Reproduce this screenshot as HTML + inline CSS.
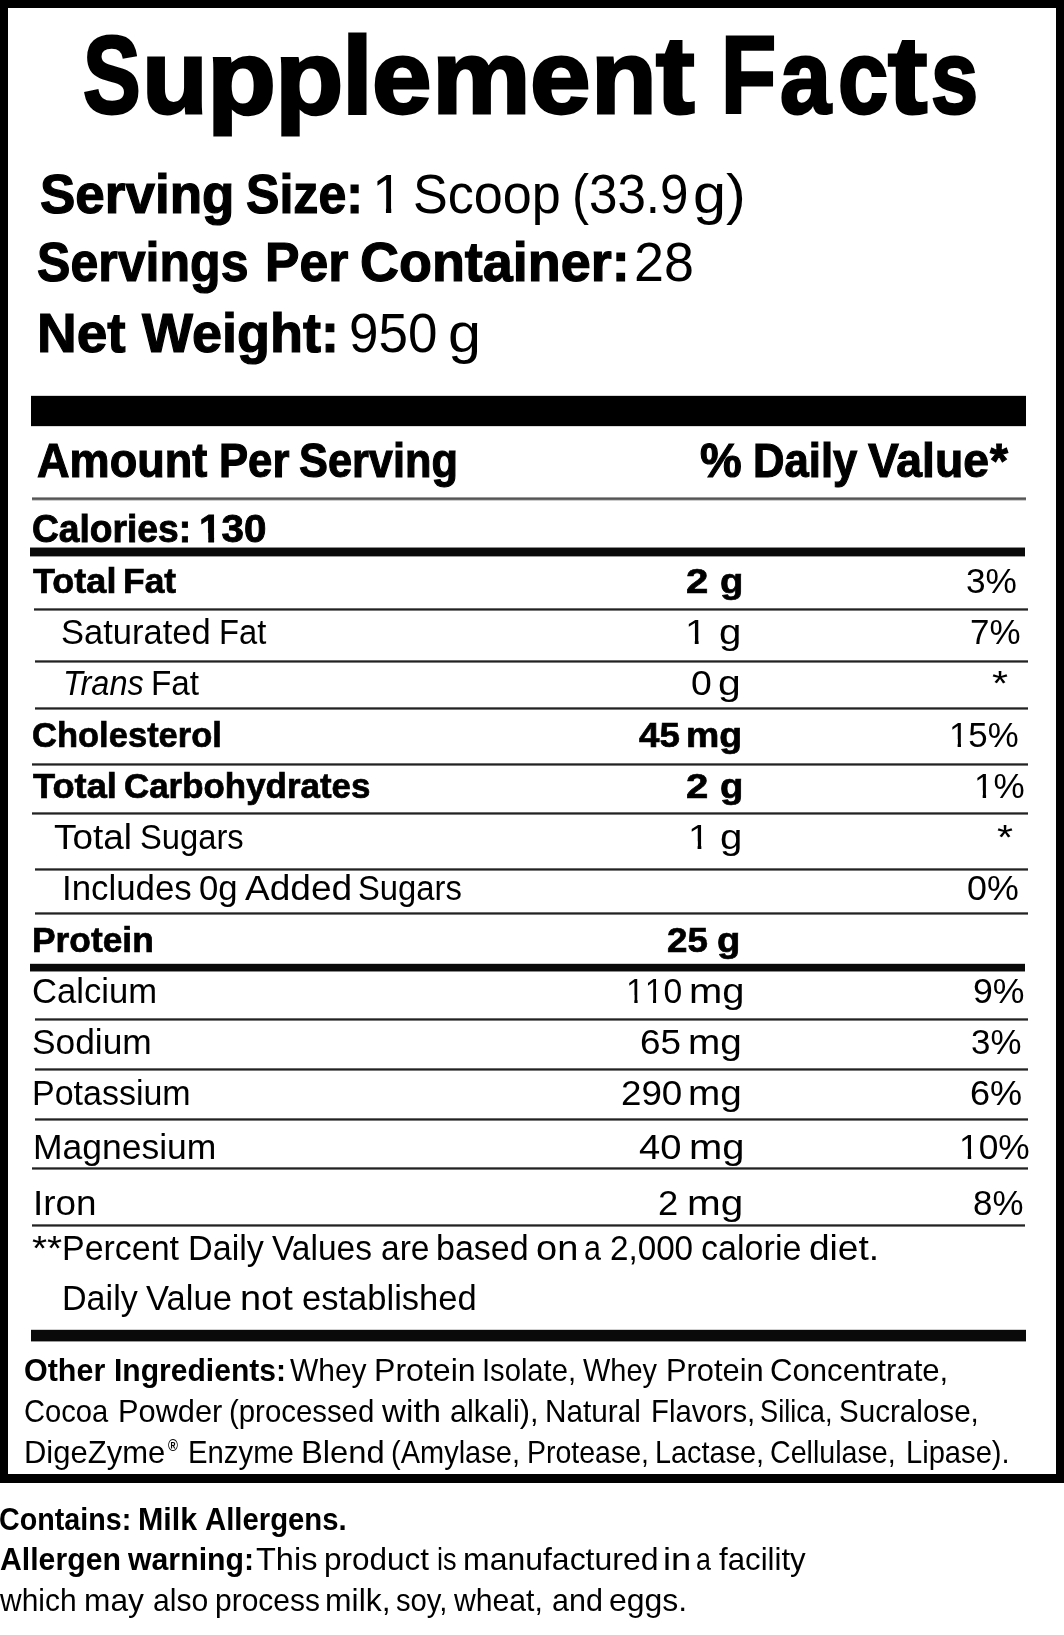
<!DOCTYPE html>
<html><head><meta charset="utf-8"><title>Supplement Facts</title>
<style>
html,body{margin:0;padding:0;background:#fff;}
body{will-change:transform;}
.o,.ob{display:inline-block;font-style:normal;}
.o{clip-path:polygon(0 0,62% 0,62% 100%,44.5% 100%,44.5% 60%,0 60%);}
.ob{clip-path:polygon(0 0,68% 0,68% 100%,41.5% 100%,41.5% 60%,0 60%);}
.t{position:absolute;white-space:nowrap;line-height:1;font-family:"Liberation Sans",sans-serif;color:#000;}
body{width:1064px;height:1635px;position:relative;overflow:hidden;}
.box{position:absolute;left:0;top:0;width:1064px;height:1483px;box-sizing:border-box;border-style:solid;border-color:#000;border-width:8px 8px 9px 8px;}
.r{position:absolute;}
.b{font-weight:bold;}
</style></head>
<body>
<div class="box"></div>
<div class="r" style="left:31px;top:395px;width:995px;height:32px;background:linear-gradient(to bottom,#d8d8d8 0px 1px,#000 1px 31px,#d8d8d8 31px 32px)"></div>
<div class="r" style="left:32px;top:497px;width:994px;height:4px;background:linear-gradient(to bottom,#9a9a9a 0px 1px,#555 1px 2px,#6a6a6a 2px 3px,#ccc 3px 4px)"></div>
<div class="r" style="left:30px;top:547px;width:995px;height:10px;background:linear-gradient(to bottom,#8c8c8c 0px 1px,#0a0a0a 1px 9px,#9a9a9a 9px 10px)"></div>
<div class="r" style="left:34px;top:608px;width:994px;height:3px;background:linear-gradient(to bottom,#6a6a6a 0px 1px,#222 1px 2px,#7a7a7a 2px 3px)"></div>
<div class="r" style="left:35px;top:660px;width:993px;height:3px;background:linear-gradient(to bottom,#6a6a6a 0px 1px,#222 1px 2px,#7a7a7a 2px 3px)"></div>
<div class="r" style="left:35px;top:707px;width:993px;height:3px;background:linear-gradient(to bottom,#6a6a6a 0px 1px,#222 1px 2px,#7a7a7a 2px 3px)"></div>
<div class="r" style="left:32px;top:763px;width:996px;height:3px;background:linear-gradient(to bottom,#6a6a6a 0px 1px,#222 1px 2px,#7a7a7a 2px 3px)"></div>
<div class="r" style="left:32px;top:812px;width:996px;height:3px;background:linear-gradient(to bottom,#6a6a6a 0px 1px,#222 1px 2px,#7a7a7a 2px 3px)"></div>
<div class="r" style="left:35px;top:868px;width:993px;height:3px;background:linear-gradient(to bottom,#6a6a6a 0px 1px,#222 1px 2px,#7a7a7a 2px 3px)"></div>
<div class="r" style="left:35px;top:912px;width:993px;height:3px;background:linear-gradient(to bottom,#6a6a6a 0px 1px,#222 1px 2px,#7a7a7a 2px 3px)"></div>
<div class="r" style="left:30px;top:963px;width:995px;height:9px;background:linear-gradient(to bottom,#cfcfcf 0px 1px,#0a0a0a 1px 8px,#8a8a8a 8px 9px)"></div>
<div class="r" style="left:35px;top:1018px;width:993px;height:3px;background:linear-gradient(to bottom,#6a6a6a 0px 1px,#222 1px 2px,#7a7a7a 2px 3px)"></div>
<div class="r" style="left:35px;top:1068px;width:993px;height:3px;background:linear-gradient(to bottom,#6a6a6a 0px 1px,#222 1px 2px,#7a7a7a 2px 3px)"></div>
<div class="r" style="left:35px;top:1118px;width:993px;height:3px;background:linear-gradient(to bottom,#6a6a6a 0px 1px,#222 1px 2px,#7a7a7a 2px 3px)"></div>
<div class="r" style="left:32px;top:1167px;width:996px;height:3px;background:linear-gradient(to bottom,#6a6a6a 0px 1px,#222 1px 2px,#7a7a7a 2px 3px)"></div>
<div class="r" style="left:32px;top:1224px;width:993px;height:3px;background:linear-gradient(to bottom,#6a6a6a 0px 1px,#222 1px 2px,#7a7a7a 2px 3px)"></div>
<div class="r" style="left:31px;top:1329px;width:995px;height:13px;background:linear-gradient(to bottom,#cfcfcf 0px 1px,#0a0a0a 1px 12px,#9a9a9a 12px 13px)"></div>
<span class="t" style="left:82.59px;top:21.25px;font-size:109.5px;-webkit-text-stroke:3.0px #000;font-weight:bold;transform-origin:0 0;transform:scaleX(0.7892)">S</span>
<span class="t" style="left:141.77px;top:21.25px;font-size:109.5px;-webkit-text-stroke:3.0px #000;font-weight:bold;transform-origin:0 93px;transform:scale(0.9839,0.945)">u</span>
<span class="t" style="left:206.67px;top:21.25px;font-size:109.5px;-webkit-text-stroke:3.0px #000;font-weight:bold;transform-origin:0 93px;transform:scale(1.0311,0.945)">p</span>
<span class="t" style="left:274.72px;top:21.25px;font-size:109.5px;-webkit-text-stroke:3.0px #000;font-weight:bold;transform-origin:0 93px;transform:scale(1.0225,0.945)">p</span>
<span class="t" style="left:341.76px;top:21.25px;font-size:109.5px;-webkit-text-stroke:3.0px #000;font-weight:bold;transform-origin:0 0;transform:scaleX(1.0132)">l</span>
<span class="t" style="left:372.26px;top:21.25px;font-size:109.5px;-webkit-text-stroke:3.0px #000;font-weight:bold;transform-origin:0 93px;transform:scale(0.9761,0.945)">e</span>
<span class="t" style="left:432.24px;top:21.25px;font-size:109.5px;-webkit-text-stroke:3.0px #000;font-weight:bold;transform-origin:0 93px;transform:scale(1.0137,0.945)">m</span>
<span class="t" style="left:529.71px;top:21.25px;font-size:109.5px;-webkit-text-stroke:3.0px #000;font-weight:bold;transform-origin:0 93px;transform:scale(0.9940,0.945)">e</span>
<span class="t" style="left:590.67px;top:21.25px;font-size:109.5px;-webkit-text-stroke:3.0px #000;font-weight:bold;transform-origin:0 93px;transform:scale(0.9838,0.945)">n</span>
<span class="t" style="left:656.25px;top:21.25px;font-size:109.5px;-webkit-text-stroke:3.0px #000;font-weight:bold;transform-origin:0 0;transform:scaleX(1.0584)">t</span>
<span class="t" style="left:721.45px;top:21.25px;font-size:109.5px;-webkit-text-stroke:3.0px #000;font-weight:bold;transform-origin:0 0;transform:scaleX(0.8242)">F</span>
<span class="t" style="left:779.80px;top:21.25px;font-size:109.5px;-webkit-text-stroke:3.0px #000;font-weight:bold;transform-origin:0 93px;transform:scale(0.8365,0.945)">a</span>
<span class="t" style="left:838.19px;top:21.25px;font-size:109.5px;-webkit-text-stroke:3.0px #000;font-weight:bold;transform-origin:0 93px;transform:scale(0.8232,0.945)">c</span>
<span class="t" style="left:888.00px;top:21.25px;font-size:109.5px;-webkit-text-stroke:3.0px #000;font-weight:bold;transform-origin:0 0;transform:scaleX(1.0789)">t</span>
<span class="t" style="left:930.77px;top:21.25px;font-size:109.5px;-webkit-text-stroke:3.0px #000;font-weight:bold;transform-origin:0 93px;transform:scale(0.7735,0.945)">s</span>
<span class="t" style="left:40.46px;top:166.75px;font-size:55px;-webkit-text-stroke:1.2px #000;font-weight:bold;transform-origin:0 0;transform:scaleX(0.9636)">Serving</span>
<span class="t" style="left:246.02px;top:166.75px;font-size:55px;-webkit-text-stroke:1.2px #000;font-weight:bold;transform-origin:0 0;transform:scaleX(0.9114)">Size:</span>
<span class="t" style="left:372.05px;top:166.75px;font-size:55px;transform-origin:0 0;transform:scaleX(1.0256)"><i class="o">1</i></span>
<span class="t" style="left:412.60px;top:166.75px;font-size:55px;transform-origin:0 0;transform:scaleX(0.9472)">Scoop</span>
<span class="t" style="left:571.79px;top:166.75px;font-size:55px;transform-origin:0 0;transform:scaleX(0.9292)">(33.9</span>
<span class="t" style="left:692.67px;top:166.75px;font-size:55px;transform-origin:0 0;transform:scaleX(1.0809)">g)</span>
<span class="t" style="left:37.02px;top:235.00px;font-size:55px;-webkit-text-stroke:1.2px #000;font-weight:bold;transform-origin:0 0;transform:scaleX(0.9104)">Servings</span>
<span class="t" style="left:264.62px;top:235.00px;font-size:55px;-webkit-text-stroke:1.2px #000;font-weight:bold;transform-origin:0 0;transform:scaleX(0.9408)">Per</span>
<span class="t" style="left:359.86px;top:235.00px;font-size:55px;-webkit-text-stroke:1.2px #000;font-weight:bold;transform-origin:0 0;transform:scaleX(0.9806)">Container:</span>
<span class="t" style="left:634.29px;top:235.00px;font-size:55px;transform-origin:0 0;transform:scaleX(0.9788)">28</span>
<span class="t" style="left:36.64px;top:305.50px;font-size:55px;-webkit-text-stroke:1.2px #000;font-weight:bold;transform-origin:0 0;transform:scaleX(0.9998)">Net</span>
<span class="t" style="left:142.25px;top:305.50px;font-size:55px;-webkit-text-stroke:1.2px #000;font-weight:bold;transform-origin:0 0;transform:scaleX(0.9819)">Weight:</span>
<span class="t" style="left:349.49px;top:305.50px;font-size:55px;transform-origin:0 0;transform:scaleX(0.9629)">950</span>
<span class="t" style="left:448.47px;top:305.50px;font-size:55px;transform-origin:0 0;transform:scaleX(1.0787)">g</span>
<span class="t" style="left:36.59px;top:437.00px;font-size:47.5px;-webkit-text-stroke:1.1px #000;font-weight:bold;transform-origin:0 0;transform:scaleX(0.9494)">Amount</span>
<span class="t" style="left:218.79px;top:437.00px;font-size:47.5px;-webkit-text-stroke:1.1px #000;font-weight:bold;transform-origin:0 0;transform:scaleX(0.9188)">Per</span>
<span class="t" style="left:298.96px;top:437.00px;font-size:47.5px;-webkit-text-stroke:1.1px #000;font-weight:bold;transform-origin:0 0;transform:scaleX(0.9121)">Serving</span>
<span class="t" style="left:699.95px;top:437.00px;font-size:47.5px;-webkit-text-stroke:1.1px #000;font-weight:bold;transform-origin:0 0;transform:scaleX(0.9871)">%</span>
<span class="t" style="left:752.59px;top:437.00px;font-size:47.5px;-webkit-text-stroke:1.1px #000;font-weight:bold;transform-origin:0 0;transform:scaleX(0.9193)">Daily</span>
<span class="t" style="left:867.68px;top:437.00px;font-size:47.5px;-webkit-text-stroke:1.1px #000;font-weight:bold;transform-origin:0 0;transform:scaleX(0.9750)">Value</span>
<span class="t" style="left:989.88px;top:437.00px;font-size:47.5px;-webkit-text-stroke:1.1px #000;font-weight:bold;transform-origin:0 0;transform:scaleX(0.9718)">*</span>
<span class="t" style="left:31.93px;top:509.00px;font-size:39.5px;-webkit-text-stroke:0.9px #000;font-weight:bold;transform-origin:0 0;transform:scaleX(0.9410)">Calories:</span>
<span class="t" style="left:198.76px;top:509.00px;font-size:39.5px;-webkit-text-stroke:0.9px #000;font-weight:bold;transform-origin:0 0;transform:scaleX(1.0217)"><i class="ob">1</i>30</span>
<span class="t" style="left:32.92px;top:563.80px;font-size:35.5px;-webkit-text-stroke:0.7px #000;font-weight:bold;transform-origin:0 29px;transform:scale(1.0150,1.012)">Total</span>
<span class="t" style="left:122.91px;top:563.80px;font-size:35.5px;-webkit-text-stroke:0.7px #000;font-weight:bold;transform-origin:0 29px;transform:scale(0.9973,1.012)">Fat</span>
<span class="t" style="left:685.78px;top:563.80px;font-size:35.5px;-webkit-text-stroke:0.7px #000;font-weight:bold;transform-origin:0 29px;transform:scale(1.1308,1.012)">2</span>
<span class="t" style="left:719.75px;top:563.80px;font-size:35.5px;-webkit-text-stroke:0.7px #000;font-weight:bold;transform-origin:0 29px;transform:scale(1.0775,1.012)">g</span>
<span class="t" style="left:966.35px;top:563.80px;font-size:35.5px;transform-origin:0 0;transform:scaleX(0.9929)">3%</span>
<span class="t" style="left:61.21px;top:615.00px;font-size:35.5px;transform-origin:0 0;transform:scaleX(0.9729)">Saturated</span>
<span class="t" style="left:219.23px;top:615.00px;font-size:35.5px;transform-origin:0 0;transform:scaleX(0.9219)">Fat</span>
<span class="t" style="left:684.88px;top:615.00px;font-size:35.5px;transform-origin:0 0;transform:scaleX(1.1131)"><i class="o">1</i></span>
<span class="t" style="left:718.58px;top:615.00px;font-size:35.5px;transform-origin:0 0;transform:scaleX(1.1328)">g</span>
<span class="t" style="left:970.21px;top:615.00px;font-size:35.5px;transform-origin:0 0;transform:scaleX(0.9857)">7%</span>
<span class="t" style="left:62.85px;top:666.20px;font-size:35.5px;font-style:italic;transform-origin:0 0;transform:scaleX(0.9164)">Trans</span>
<span class="t" style="left:150.94px;top:666.20px;font-size:35.5px;transform-origin:0 0;transform:scaleX(0.9375)">Fat</span>
<span class="t" style="left:690.51px;top:666.20px;font-size:35.5px;transform-origin:0 0;transform:scaleX(1.0524)">0</span>
<span class="t" style="left:717.75px;top:666.20px;font-size:35.5px;transform-origin:0 0;transform:scaleX(1.1517)">g</span>
<span class="t" style="left:992.05px;top:666.20px;font-size:35.5px;transform-origin:0 0;transform:scaleX(1.1595)">*</span>
<span class="t" style="left:32.08px;top:718.00px;font-size:35.5px;-webkit-text-stroke:0.7px #000;font-weight:bold;transform-origin:0 29px;transform:scale(0.9727,1.012)">Cholesterol</span>
<span class="t" style="left:639.34px;top:718.00px;font-size:35.5px;-webkit-text-stroke:0.7px #000;font-weight:bold;transform-origin:0 29px;transform:scale(1.0352,1.012)">45</span>
<span class="t" style="left:685.78px;top:718.00px;font-size:35.5px;-webkit-text-stroke:0.7px #000;font-weight:bold;transform-origin:0 29px;transform:scale(1.0550,1.012)">mg</span>
<span class="t" style="left:948.63px;top:718.00px;font-size:35.5px;transform-origin:0 0;transform:scaleX(0.9803)"><i class="o">1</i>5%</span>
<span class="t" style="left:32.92px;top:769.25px;font-size:35.5px;-webkit-text-stroke:0.7px #000;font-weight:bold;transform-origin:0 29px;transform:scale(1.0213,1.012)">Total</span>
<span class="t" style="left:123.87px;top:769.25px;font-size:35.5px;-webkit-text-stroke:0.7px #000;font-weight:bold;transform-origin:0 29px;transform:scale(0.9833,1.012)">Carbohydrates</span>
<span class="t" style="left:685.78px;top:769.25px;font-size:35.5px;-webkit-text-stroke:0.7px #000;font-weight:bold;transform-origin:0 29px;transform:scale(1.1308,1.012)">2</span>
<span class="t" style="left:719.75px;top:769.25px;font-size:35.5px;-webkit-text-stroke:0.7px #000;font-weight:bold;transform-origin:0 29px;transform:scale(1.0775,1.012)">g</span>
<span class="t" style="left:973.61px;top:769.25px;font-size:35.5px;transform-origin:0 0;transform:scaleX(0.9879)"><i class="o">1</i>%</span>
<span class="t" style="left:54.17px;top:820.00px;font-size:35.5px;transform-origin:0 0;transform:scaleX(1.0390)">Total</span>
<span class="t" style="left:139.56px;top:820.00px;font-size:35.5px;transform-origin:0 0;transform:scaleX(0.9215)">Sugars</span>
<span class="t" style="left:687.65px;top:820.00px;font-size:35.5px;transform-origin:0 0;transform:scaleX(1.0904)"><i class="o">1</i></span>
<span class="t" style="left:719.78px;top:820.00px;font-size:35.5px;transform-origin:0 0;transform:scaleX(1.1328)">g</span>
<span class="t" style="left:997.05px;top:820.00px;font-size:35.5px;transform-origin:0 0;transform:scaleX(1.1595)">*</span>
<span class="t" style="left:62.06px;top:871.00px;font-size:35.5px;transform-origin:0 0;transform:scaleX(0.9812)">Includes</span>
<span class="t" style="left:198.61px;top:871.00px;font-size:35.5px;transform-origin:0 0;transform:scaleX(0.9789)">0g</span>
<span class="t" style="left:245.20px;top:871.00px;font-size:35.5px;transform-origin:0 0;transform:scaleX(1.0437)">Added</span>
<span class="t" style="left:358.30px;top:871.00px;font-size:35.5px;transform-origin:0 0;transform:scaleX(0.9238)">Sugars</span>
<span class="t" style="left:966.57px;top:871.00px;font-size:35.5px;transform-origin:0 0;transform:scaleX(1.0086)">0%</span>
<span class="t" style="left:31.66px;top:922.50px;font-size:35.5px;-webkit-text-stroke:0.7px #000;font-weight:bold;transform-origin:0 29px;transform:scale(0.9959,1.012)">Protein</span>
<span class="t" style="left:666.88px;top:922.50px;font-size:35.5px;-webkit-text-stroke:0.7px #000;font-weight:bold;transform-origin:0 29px;transform:scale(1.0341,1.012)">25</span>
<span class="t" style="left:716.75px;top:922.50px;font-size:35.5px;-webkit-text-stroke:0.7px #000;font-weight:bold;transform-origin:0 29px;transform:scale(1.0775,1.012)">g</span>
<span class="t" style="left:32.22px;top:973.75px;font-size:35.5px;transform-origin:0 0;transform:scaleX(0.9746)">Calcium</span>
<span class="t" style="left:626.25px;top:973.75px;font-size:35.5px;transform-origin:0 0;transform:scaleX(0.9471)"><i class="o">1</i><i class="o">1</i>0</span>
<span class="t" style="left:689.29px;top:973.75px;font-size:35.5px;transform-origin:0 0;transform:scaleX(1.1237)">mg</span>
<span class="t" style="left:972.75px;top:973.75px;font-size:35.5px;transform-origin:0 0;transform:scaleX(1.0050)">9%</span>
<span class="t" style="left:32.17px;top:1024.75px;font-size:35.5px;transform-origin:0 0;transform:scaleX(0.9953)">Sodium</span>
<span class="t" style="left:640.13px;top:1024.75px;font-size:35.5px;transform-origin:0 0;transform:scaleX(1.0379)">65</span>
<span class="t" style="left:688.38px;top:1024.75px;font-size:35.5px;transform-origin:0 0;transform:scaleX(1.0900)">mg</span>
<span class="t" style="left:971.37px;top:1024.75px;font-size:35.5px;transform-origin:0 0;transform:scaleX(0.9826)">3%</span>
<span class="t" style="left:32.13px;top:1076.25px;font-size:35.5px;transform-origin:0 0;transform:scaleX(0.9572)">Potassium</span>
<span class="t" style="left:621.16px;top:1076.25px;font-size:35.5px;transform-origin:0 0;transform:scaleX(1.0351)">290</span>
<span class="t" style="left:688.38px;top:1076.25px;font-size:35.5px;transform-origin:0 0;transform:scaleX(1.0900)">mg</span>
<span class="t" style="left:970.17px;top:1076.25px;font-size:35.5px;transform-origin:0 0;transform:scaleX(1.0167)">6%</span>
<span class="t" style="left:32.70px;top:1130.00px;font-size:35.5px;transform-origin:0 0;transform:scaleX(0.9990)">Magnesium</span>
<span class="t" style="left:638.63px;top:1130.00px;font-size:35.5px;transform-origin:0 0;transform:scaleX(1.0756)">40</span>
<span class="t" style="left:689.29px;top:1130.00px;font-size:35.5px;transform-origin:0 0;transform:scaleX(1.1237)">mg</span>
<span class="t" style="left:958.58px;top:1130.00px;font-size:35.5px;transform-origin:0 0;transform:scaleX(0.9954)"><i class="o">1</i>0%</span>
<span class="t" style="left:32.57px;top:1186.00px;font-size:35.5px;transform-origin:0 0;transform:scaleX(1.0383)">Iron</span>
<span class="t" style="left:658.18px;top:1186.00px;font-size:35.5px;transform-origin:0 0;transform:scaleX(1.0210)">2</span>
<span class="t" style="left:687.26px;top:1186.00px;font-size:35.5px;transform-origin:0 0;transform:scaleX(1.1395)">mg</span>
<span class="t" style="left:972.90px;top:1186.00px;font-size:35.5px;transform-origin:0 0;transform:scaleX(0.9820)">8%</span>
<span class="t" style="left:32.31px;top:1230.50px;font-size:35.5px;transform-origin:0 0;transform:scaleX(1.0917)">**</span>
<span class="t" style="left:61.73px;top:1230.50px;font-size:35.5px;transform-origin:0 0;transform:scaleX(0.9563)">Percent</span>
<span class="t" style="left:187.52px;top:1230.50px;font-size:35.5px;transform-origin:0 0;transform:scaleX(0.9614)">Daily</span>
<span class="t" style="left:271.94px;top:1230.50px;font-size:35.5px;transform-origin:0 0;transform:scaleX(0.9437)">Values</span>
<span class="t" style="left:380.51px;top:1230.50px;font-size:35.5px;transform-origin:0 0;transform:scaleX(0.9447)">are</span>
<span class="t" style="left:435.58px;top:1230.50px;font-size:35.5px;transform-origin:0 0;transform:scaleX(0.9577)">based</span>
<span class="t" style="left:536.36px;top:1230.50px;font-size:35.5px;transform-origin:0 0;transform:scaleX(1.0713)">on</span>
<span class="t" style="left:583.65px;top:1230.50px;font-size:35.5px;transform-origin:0 0;transform:scaleX(0.8590)">a</span>
<span class="t" style="left:609.94px;top:1230.50px;font-size:35.5px;transform-origin:0 0;transform:scaleX(0.9351)">2,000</span>
<span class="t" style="left:700.90px;top:1230.50px;font-size:35.5px;transform-origin:0 0;transform:scaleX(0.9604)">calorie</span>
<span class="t" style="left:808.91px;top:1230.50px;font-size:35.5px;transform-origin:0 0;transform:scaleX(1.0445)">diet.</span>
<span class="t" style="left:62.32px;top:1281.00px;font-size:35.5px;transform-origin:0 0;transform:scaleX(0.9600)">Daily</span>
<span class="t" style="left:145.73px;top:1281.00px;font-size:35.5px;transform-origin:0 0;transform:scaleX(0.9739)">Value</span>
<span class="t" style="left:239.73px;top:1281.00px;font-size:35.5px;transform-origin:0 0;transform:scaleX(1.0688)">not</span>
<span class="t" style="left:301.79px;top:1281.00px;font-size:35.5px;transform-origin:0 0;transform:scaleX(0.9726)">established</span>
<span class="t" style="left:23.72px;top:1354.40px;font-size:32px;font-weight:bold;transform-origin:0 0;transform:scaleX(0.9519)">Other</span>
<span class="t" style="left:113.97px;top:1354.40px;font-size:32px;font-weight:bold;transform-origin:0 0;transform:scaleX(0.9391)">Ingredients:</span>
<span class="t" style="left:290.11px;top:1354.40px;font-size:32px;transform-origin:0 0;transform:scaleX(0.9362)">Whey</span>
<span class="t" style="left:374.07px;top:1354.40px;font-size:32px;transform-origin:0 0;transform:scaleX(1.0022)">Protein</span>
<span class="t" style="left:482.27px;top:1354.40px;font-size:32px;transform-origin:0 0;transform:scaleX(0.9109)">Isolate,</span>
<span class="t" style="left:583.32px;top:1354.40px;font-size:32px;transform-origin:0 0;transform:scaleX(0.9042)">Whey</span>
<span class="t" style="left:666.17px;top:1354.40px;font-size:32px;transform-origin:0 0;transform:scaleX(0.9628)">Protein</span>
<span class="t" style="left:770.11px;top:1354.40px;font-size:32px;transform-origin:0 0;transform:scaleX(0.9730)">Concentrate,</span>
<span class="t" style="left:23.71px;top:1395.00px;font-size:32px;transform-origin:0 0;transform:scaleX(0.9109)">Cocoa</span>
<span class="t" style="left:117.87px;top:1395.00px;font-size:32px;transform-origin:0 0;transform:scaleX(0.9617)">Powder</span>
<span class="t" style="left:229.05px;top:1395.00px;font-size:32px;transform-origin:0 0;transform:scaleX(0.9178)">(processed</span>
<span class="t" style="left:382.49px;top:1395.00px;font-size:32px;transform-origin:0 0;transform:scaleX(1.0385)">with</span>
<span class="t" style="left:450.44px;top:1395.00px;font-size:32px;transform-origin:0 0;transform:scaleX(0.9560)">alkali),</span>
<span class="t" style="left:544.76px;top:1395.00px;font-size:32px;transform-origin:0 0;transform:scaleX(0.9296)">Natural</span>
<span class="t" style="left:650.59px;top:1395.00px;font-size:32px;transform-origin:0 0;transform:scaleX(0.9154)">Flavors,</span>
<span class="t" style="left:760.00px;top:1395.00px;font-size:32px;transform-origin:0 0;transform:scaleX(0.8496)">Silica,</span>
<span class="t" style="left:839.17px;top:1395.00px;font-size:32px;transform-origin:0 0;transform:scaleX(0.9249)">Sucralose,</span>
<span class="t" style="left:24.46px;top:1436.30px;font-size:32px;transform-origin:0 0;transform:scaleX(0.9681)">DigeZyme</span>
<span class="t" style="left:187.59px;top:1436.30px;font-size:32px;transform-origin:0 0;transform:scaleX(0.9158)">Enzyme</span>
<span class="t" style="left:300.91px;top:1436.30px;font-size:32px;transform-origin:0 0;transform:scaleX(1.0229)">Blend</span>
<span class="t" style="left:390.77px;top:1436.30px;font-size:32px;transform-origin:0 0;transform:scaleX(0.9064)">(Amylase,</span>
<span class="t" style="left:526.86px;top:1436.30px;font-size:32px;transform-origin:0 0;transform:scaleX(0.8906)">Protease,</span>
<span class="t" style="left:654.63px;top:1436.30px;font-size:32px;transform-origin:0 0;transform:scaleX(0.9014)">Lactase,</span>
<span class="t" style="left:770.24px;top:1436.30px;font-size:32px;transform-origin:0 0;transform:scaleX(0.8949)">Cellulase,</span>
<span class="t" style="left:906.01px;top:1436.30px;font-size:32px;transform-origin:0 0;transform:scaleX(0.9102)">Lipase).</span>
<span class="t" style="left:167.92px;top:1438.00px;font-size:16px;font-weight:bold;transform-origin:0 0;transform:scaleX(0.8434)">&reg;</span>
<span class="t" style="left:-0.72px;top:1502.50px;font-size:32px;font-weight:bold;transform-origin:0 0;transform:scaleX(0.8959)">Contains:</span>
<span class="t" style="left:138.05px;top:1502.50px;font-size:32px;font-weight:bold;transform-origin:0 0;transform:scaleX(0.9505)">Milk</span>
<span class="t" style="left:205.24px;top:1502.50px;font-size:32px;font-weight:bold;transform-origin:0 0;transform:scaleX(0.9156)">Allergens.</span>
<span class="t" style="left:-0.49px;top:1542.50px;font-size:32px;font-weight:bold;transform-origin:0 0;transform:scaleX(0.9444)">Allergen</span>
<span class="t" style="left:128.44px;top:1542.50px;font-size:32px;font-weight:bold;transform-origin:0 0;transform:scaleX(0.9458)">warning:</span>
<span class="t" style="left:256.07px;top:1542.50px;font-size:32px;transform-origin:0 0;transform:scaleX(1.0162)">This</span>
<span class="t" style="left:323.93px;top:1542.50px;font-size:32px;transform-origin:0 0;transform:scaleX(0.9828)">product</span>
<span class="t" style="left:436.67px;top:1542.50px;font-size:32px;transform-origin:0 0;transform:scaleX(0.8473)">is</span>
<span class="t" style="left:463.03px;top:1542.50px;font-size:32px;transform-origin:0 0;transform:scaleX(0.9990)">manufactured</span>
<span class="t" style="left:662.85px;top:1542.50px;font-size:32px;transform-origin:0 0;transform:scaleX(1.1343)">in</span>
<span class="t" style="left:695.90px;top:1542.50px;font-size:32px;transform-origin:0 0;transform:scaleX(0.8380)">a</span>
<span class="t" style="left:718.95px;top:1542.50px;font-size:32px;transform-origin:0 0;transform:scaleX(0.9755)">facility</span>
<span class="t" style="left:0.40px;top:1584.10px;font-size:32px;transform-origin:0 0;transform:scaleX(0.9359)">which</span>
<span class="t" style="left:83.84px;top:1584.10px;font-size:32px;transform-origin:0 0;transform:scaleX(0.9902)">may</span>
<span class="t" style="left:152.86px;top:1584.10px;font-size:32px;transform-origin:0 0;transform:scaleX(0.9413)">also</span>
<span class="t" style="left:214.92px;top:1584.10px;font-size:32px;transform-origin:0 0;transform:scaleX(0.9370)">process</span>
<span class="t" style="left:324.83px;top:1584.10px;font-size:32px;transform-origin:0 0;transform:scaleX(0.9963)">milk,</span>
<span class="t" style="left:396.24px;top:1584.10px;font-size:32px;transform-origin:0 0;transform:scaleX(0.9131)">soy,</span>
<span class="t" style="left:454.00px;top:1584.10px;font-size:32px;transform-origin:0 0;transform:scaleX(0.9420)">wheat,</span>
<span class="t" style="left:551.54px;top:1584.10px;font-size:32px;transform-origin:0 0;transform:scaleX(0.9527)">and</span>
<span class="t" style="left:608.89px;top:1584.10px;font-size:32px;transform-origin:0 0;transform:scaleX(0.9993)">eggs.</span>
</body></html>
